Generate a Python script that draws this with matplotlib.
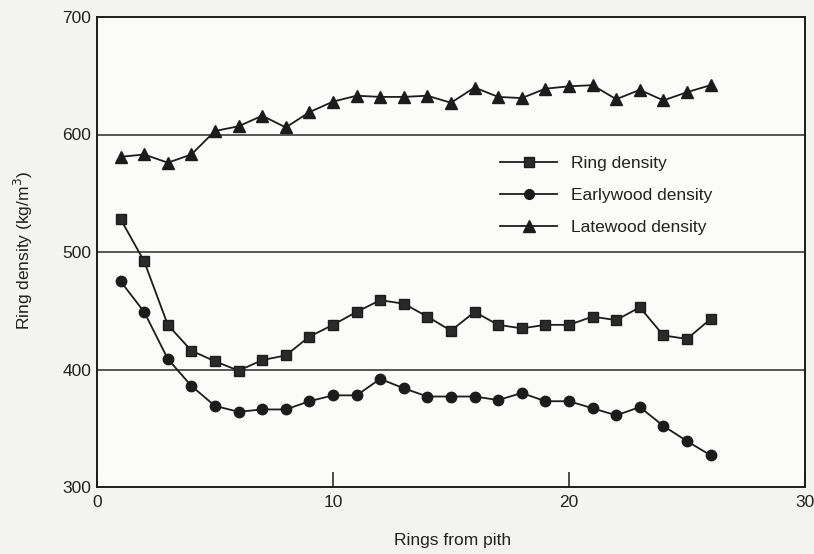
import matplotlib
matplotlib.use("Agg")
import matplotlib.pyplot as plt
from matplotlib.lines import Line2D

# Density profiles by ring number from the pith
rings = list(range(1, 27))
ring_density = [528, 492, 438, 416, 407, 399, 408, 412, 428, 438, 449, 459, 456,
                445, 433, 449, 438, 435, 438, 438, 445, 442, 453, 429, 426, 443]
earlywood_density = [475, 449, 409, 386, 369, 364, 366, 366, 373, 378, 378, 392, 384,
                     377, 377, 377, 374, 380, 373, 373, 367, 361, 368, 352, 339, 327]
latewood_density = [581, 583, 576, 583, 603, 607, 616, 606, 619, 628, 633, 632, 632,
                    633, 627, 640, 632, 631, 639, 641, 642, 630, 638, 629, 636, 642]

series_labels = ["Ring density", "Earlywood density", "Latewood density"]
x_ticks = [0, 10, 20, 30]
y_ticks = [300, 400, 500, 600, 700]

plt.rcParams["font.family"] = ["Liberation Sans Narrow", "Liberation Sans", "DejaVu Sans"]

fig = plt.figure(figsize=(8.14, 5.54), dpi=100, facecolor="#f3f3f1")
ax = fig.add_axes([97 / 814, 1 - 487 / 554, 708 / 814, 470 / 554])
ax.set_facecolor("#fbfbfa")

ink = "#1c1c1c"
for y in (400, 500, 600):
    ax.axhline(y, color="#3a3a3a", lw=1.2, zorder=1)

common = dict(color=ink, lw=1.3, zorder=3)
ax.plot(rings, ring_density, marker="s", ms=7.5, mec=ink, mfc="#2a2a2a", **common)
ax.plot(rings, earlywood_density, marker="o", ms=7.5, mec=ink, mfc=ink, **common)
ax.plot(rings, latewood_density, marker="^", ms=8.5, mec=ink, mfc=ink, **common)

ax.set_xlim(0, 30)
ax.set_ylim(300, 700)
ax.set_xticks(x_ticks)
ax.set_yticks(y_ticks)
ax.tick_params(axis="x", direction="in", length=11, width=1.1, color=ink,
               labelsize=12.5, labelcolor="#222222", pad=6)
ax.tick_params(axis="y", length=0, labelsize=12.5, labelcolor="#222222", pad=4)
for s in ax.spines.values():
    s.set_color(ink)
    s.set_linewidth(1.4)

handles = [
    Line2D([], [], color=ink, lw=1.3, marker="s", ms=7, mfc="#2a2a2a", mec=ink),
    Line2D([], [], color=ink, lw=1.3, marker="o", ms=7, mfc=ink, mec=ink),
    Line2D([], [], color=ink, lw=1.3, marker="^", ms=8, mfc=ink, mec=ink),
]
fig.legend(handles, series_labels, loc="upper left",
           bbox_to_anchor=(500 / 814, 1 - 156 / 554), frameon=False,
           fontsize=12.5, handlelength=3.3, handletextpad=0.8,
           labelspacing=0.98, borderpad=0, borderaxespad=0, labelcolor="#222222")

fig.text(23 / 814, 1 - 250 / 554, "Ring density (kg/m$^3$)", rotation=90,
         ha="center", va="center", fontsize=12.5, color="#222222")
fig.text(453 / 814, 1 - 540 / 554, "Rings from pith", ha="center", va="center",
         fontsize=12.5, color="#222222")

fig.savefig("out.png", dpi=100, facecolor=fig.get_facecolor())
